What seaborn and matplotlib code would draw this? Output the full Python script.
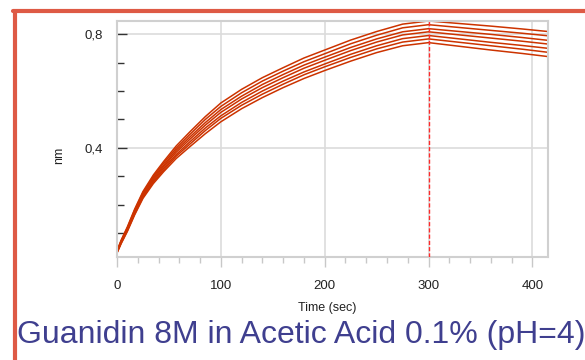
import numpy as np
import pandas as pd
import seaborn as sns
import matplotlib.pyplot as plt
from matplotlib.lines import Line2D
from matplotlib.ticker import MultipleLocator

# sensorgram: association 0-300 s, dissociation 300-415 s
time_s = [0, 4, 10, 17, 25, 35, 45, 57, 70, 85, 100, 120, 140, 160, 180,
          200, 225, 250, 275, 300, 330, 360, 390, 415]

curve_a = [.031, .064, .107, .165, .223, .275, .317, .363, .404, .450, .492, .538,
           .577, .612, .644, .672, .705, .735, .759, .770, .757, .744, .732, .721]
curve_b = [.032, .066, .110, .168, .227, .280, .323, .371, .413, .461, .504, .550,
           .589, .624, .657, .685, .718, .748, .772, .783, .771, .759, .747, .736]
curve_c = [.034, .068, .112, .172, .231, .285, .329, .377, .421, .470, .513, .560,
           .600, .635, .667, .695, .729, .759, .784, .795, .783, .771, .760, .750]
curve_d = [.035, .070, .115, .175, .235, .290, .335, .385, .430, .480, .525, .572,
           .612, .647, .680, .708, .742, .772, .797, .808, .797, .786, .775, .765]
curve_e = [.036, .072, .117, .178, .239, .295, .340, .392, .438, .489, .535, .582,
           .623, .658, .691, .719, .753, .783, .808, .819, .809, .799, .788, .778]
curve_f = [.038, .074, .120, .182, .243, .300, .347, .399, .447, .500, .546, .594,
           .635, .670, .703, .731, .766, .796, .822, .833, .823, .813, .803, .794]
curve_g = [.039, .076, .123, .185, .247, .305, .353, .407, .456, .510, .558, .606,
           .647, .682, .716, .744, .779, .809, .835, .846, .837, .828, .818, .809]

curves = {"a": curve_a, "b": curve_b, "c": curve_c, "d": curve_d,
          "e": curve_e, "f": curve_f, "g": curve_g}

rows = []
for name, vals in curves.items():
    for t, v in zip(time_s, vals):
        rows.append({"curve": name, "time": t, "nm": v})
df = pd.DataFrame(rows)

injection_end = 300
caption = "Guanidin 8M in Acetic Acid 0.1% (pH=4)"

sns.set_style("white")
plt.rcParams["font.family"] = ["Liberation Sans", "DejaVu Sans"]

fig = plt.figure(figsize=(5.85, 3.6), dpi=100)
ax = fig.add_axes([0.2, 0.2861, 0.7368, 0.6556])

line_col = "#cc3300"
sns.lineplot(data=df, x="time", y="nm", units="curve", estimator=None,
             color=line_col, linewidth=1.1, ax=ax, legend=False)

ax.axvline(injection_end, color="#ff2a2a", linestyle=(0, (3, 1.5)),
           linewidth=1.0, zorder=5)

ax.set_xlim(0, 415)
ax.set_ylim(0.017, 0.846)

ax.xaxis.set_major_locator(MultipleLocator(100))
ax.xaxis.set_minor_locator(MultipleLocator(20))
ax.set_yticks([0.4, 0.8])
ax.set_yticklabels(["0,4", "0,8"])
ax.yaxis.set_minor_locator(MultipleLocator(0.1))

ax.grid(True, which="major", color="#dcdcdc", linewidth=1.2)
ax.set_axisbelow(True)
for sp in ax.spines.values():
    sp.set_color("#d0d0d0")
    sp.set_linewidth(1.5)

ax.tick_params(axis="x", which="both", bottom=True)
ax.tick_params(axis="y", which="both", left=True)
ax.tick_params(axis="x", which="major", direction="out", length=7.2, width=1,
               color="#c8c8c8", pad=9, labelsize=9.5, labelcolor="#222222")
ax.tick_params(axis="x", which="minor", direction="out", length=4.3, width=1,
               color="#c8c8c8")
ax.tick_params(axis="y", which="major", direction="in", length=7, width=1,
               color="#333333", pad=10, labelsize=9.5, labelcolor="#222222")
ax.tick_params(axis="y", which="minor", direction="in", length=5, width=1,
               color="#333333")

ax.set_xlabel("Time (sec)", fontsize=9, color="#222222")
ax.set_ylabel("nm", fontsize=9, color="#222222")
ax.xaxis.set_label_coords(0.487, -0.19)
ax.yaxis.set_label_coords(-0.12, 0.43)

# red slide frame
frame_col = "#de5a45"
fig.add_artist(Line2D([13 / 585, 1.0], [1 - 10.5 / 360, 1 - 10.5 / 360],
                      color=frame_col, linewidth=3, transform=fig.transFigure))
fig.add_artist(Line2D([15 / 585, 15 / 585], [0, 1 - 10.5 / 360],
                      color=frame_col, linewidth=3, transform=fig.transFigure))

fig.text(17 / 585, 1 - 335 / 360, caption, fontsize=23, color="#3f3f8f",
         ha="left", va="center")

fig.savefig("out.png", dpi=100)
